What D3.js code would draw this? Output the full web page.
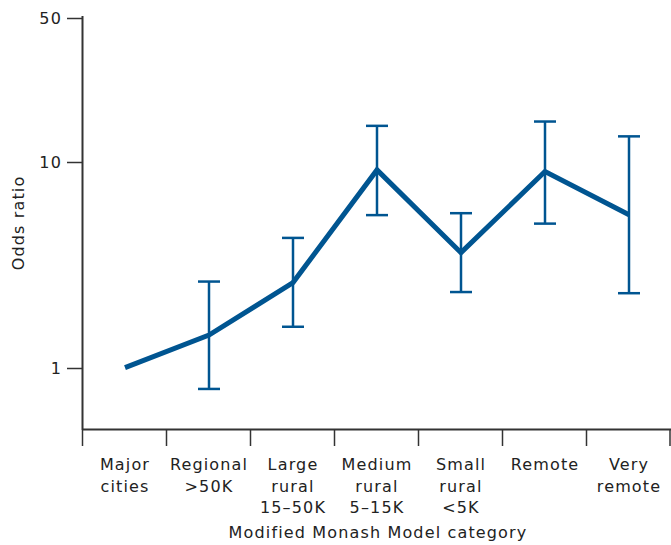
<!DOCTYPE html>
<html><head><meta charset="utf-8">
<script src="https://cdn.jsdelivr.net/npm/d3@7/dist/d3.min.js"></script>
<style>body{margin:0;background:#fff}svg{display:block}text{font-family:"DejaVu Sans",Verdana,sans-serif;fill:#222;letter-spacing:1.15px}</style>
</head><body>
<svg id="c" width="671" height="545"></svg>
<script>
const categories = [["Major","cities"],["Regional",">50K"],["Large","rural","15–50K"],["Medium","rural","5–15K"],["Small","rural","<5K"],["Remote"],["Very","remote"]];
const oddsRatio = [1, 1.44, 2.59, 9.14, 3.62, 8.97, 5.53];
const ciLower = [null, 0.788, 1.58, 5.51, 2.33, 5.01, 2.30];
const ciUpper = [null, 2.62, 4.27, 14.96, 5.63, 15.7, 13.3];
const yTicks = [1, 10, 50];

const svg = d3.select("#c");
const blue = "#005591", axisCol = "#333";
const x = d3.scaleBand().domain(d3.range(categories.length)).range([83, 671]);
const y = d3.scaleLog().domain([0.5, 50]).range([429.6, 18]);

// axes
svg.append("line").attr("x1",82.5).attr("x2",82.5).attr("y1",16).attr("y2",430).attr("stroke",axisCol).attr("stroke-width",2);
svg.append("line").attr("x1",82).attr("x2",671).attr("y1",429.5).attr("y2",429.5).attr("stroke",axisCol).attr("stroke-width",2);
yTicks.forEach(t=>{
  const yy = Math.round(y(t))+0.5;
  svg.append("line").attr("x1",67).attr("x2",82).attr("y1",yy).attr("y2",yy).attr("stroke",axisCol).attr("stroke-width",1.5);
  svg.append("text").attr("x",62).attr("y",yy).attr("dy","0.35em").attr("text-anchor","end").attr("font-size",16).text(t);
});
const bounds = d3.range(categories.length).map(i=>x(i)).concat([671]);
bounds.forEach((b,i)=>{
  const xx = i===0 ? 82.5 : Math.min(Math.round(b)-0.5, 670);
  svg.append("line").attr("x1",xx).attr("x2",xx).attr("y1",430).attr("y2",446).attr("stroke",axisCol).attr("stroke-width",1.5);
});
categories.forEach((lines,i)=>{
  const t = svg.append("text").attr("text-anchor","middle").attr("font-size",16);
  lines.forEach((l,j)=>t.append("tspan").attr("x",x(i)+x.bandwidth()/2).attr("y",470+j*21.5).text(l));
});
svg.append("text").attr("x",378).attr("y",538).attr("text-anchor","middle").attr("font-size",16).text("Modified Monash Model category");
svg.append("text").attr("transform","translate(24,223) rotate(-90)").attr("text-anchor","middle").attr("font-size",16).text("Odds ratio");

const cx = i => x(i)+x.bandwidth()/2;
// error bars
oddsRatio.forEach((v,i)=>{
  if(ciLower[i]==null) return;
  const g = svg.append("g").attr("stroke",blue).attr("stroke-width",2.5);
  g.append("line").attr("x1",cx(i)).attr("x2",cx(i)).attr("y1",y(ciLower[i])).attr("y2",y(ciUpper[i]));
  [ciLower[i],ciUpper[i]].forEach(c=>g.append("line").attr("x1",cx(i)-11).attr("x2",cx(i)+11).attr("y1",y(c)).attr("y2",y(c)));
});
// line
svg.append("path").datum(oddsRatio)
  .attr("d", d3.line().x((d,i)=>cx(i)).y(d=>y(d)))
  .attr("fill","none").attr("stroke",blue).attr("stroke-width",5).attr("stroke-linejoin","miter");
</script>
</body></html>
